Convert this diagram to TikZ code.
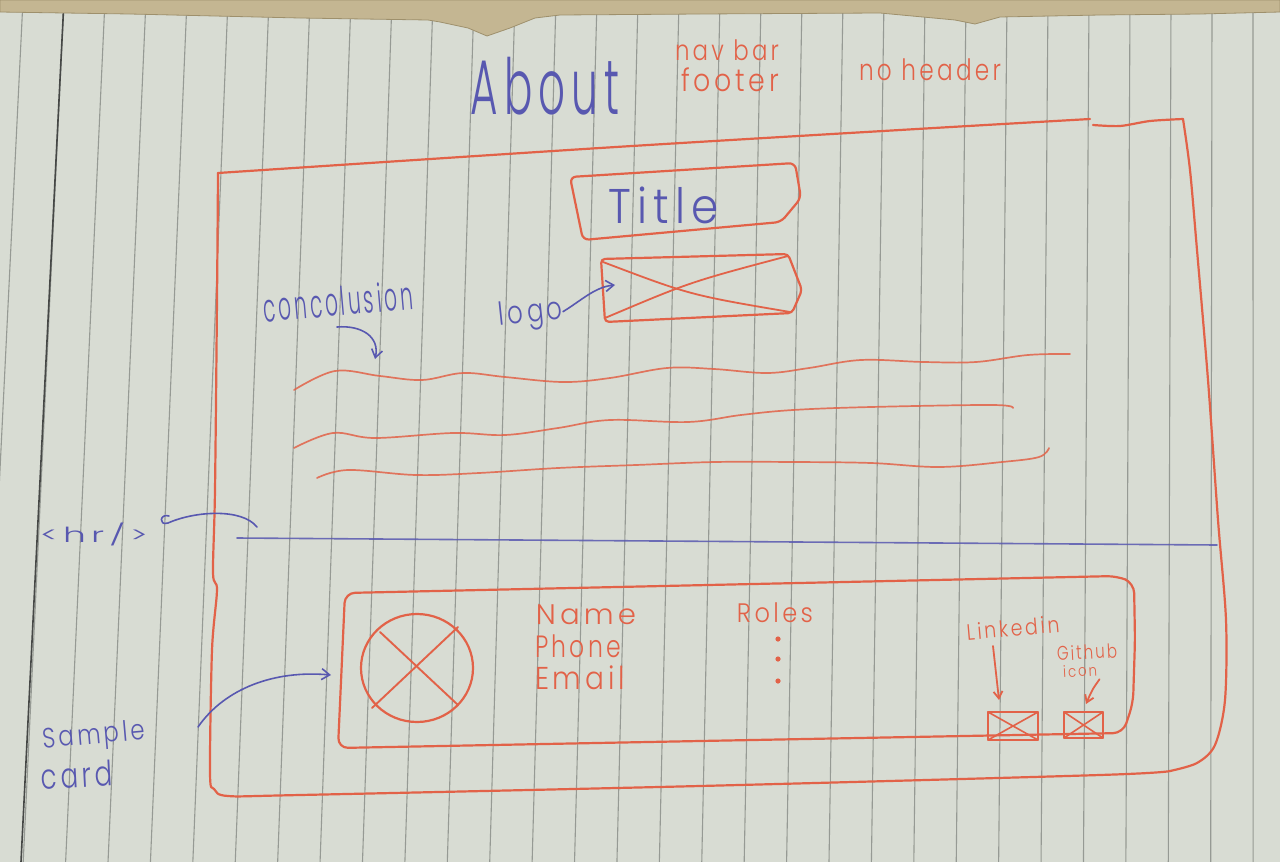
\documentclass[tikz,border=0pt]{standalone}
\usepackage{fontspec}
\setmainfont{Poppins Light}
\usetikzlibrary{arrows.meta}

\definecolor{paper}{RGB}{216,220,211}
\definecolor{ruleline}{RGB}{150,154,148}
\definecolor{marginline}{RGB}{70,72,70}
\definecolor{torn}{RGB}{196,182,146}
\definecolor{tornedge}{RGB}{158,144,108}
\definecolor{redink}{RGB}{226,98,72}
\definecolor{blueink}{RGB}{88,88,176}

% handwritten word, loosely spaced, squeezed into a given width and total height
\newcommand{\inked}[3]{\resizebox*{#1pt}{#2pt}{\addfontfeature{LetterSpace=14}#3}}

\tikzset{
  redpen/.style={draw=redink, line width=2.2pt, line cap=round, line join=round},
  thinred/.style={draw=redink, line width=1.7pt, line cap=round, line join=round, draw opacity=0.85},
  bluepen/.style={draw=blueink, line width=1.9pt, line cap=round, line join=round},
  bluearrow/.style={bluepen, -{Straight Barb[length=8pt,width=11pt]}},
  redarrow/.style={redpen, line width=1.8pt, -{Straight Barb[length=7pt,width=9pt]}},
  redword/.style={text=redink, inner sep=0pt},
  blueword/.style={text=blueink, inner sep=0pt},
}

\begin{document}
\begin{tikzpicture}[x=1pt, y=-1pt]
\useasboundingbox (0,0) rectangle (1280,862);
\fill[paper] (0,0) rectangle (1280,862);

% ruled paper, vertical lines leaning slightly
\foreach \k in {-1,...,29} {
  \pgfmathsetmacro\xt{64+41*\k}
  \pgfmathsetmacro\xb{\xt-43*(1-\xt/1250)}
  \draw[ruleline, line width=1.1pt] (\xt,0) -- (\xb,862);
}
\draw[marginline, line width=1.6pt] (64,0) -- (21,862);

% torn strip along the top edge
\fill[torn, draw=tornedge, line width=0.8pt]
  (0,0) -- (1280,0) -- (1280,12) -- (1200,14) -- (1100,15) -- (1000,17)
  -- (975,24) -- (955,20) -- (880,13) -- (700,14) -- (560,15) -- (535,18)
  -- (510,28) -- (487,36) -- (468,28) -- (440,22) -- (428,20) -- (300,18)
  -- (130,14) -- (0,12) -- cycle;

% page heading and notes
\node[blueword] (about) at (545,86) {\inked{148}{58}{About}};
\node[redword] (navbar) at (727,50) {\inked{104}{21}{nav bar}};
\node[redword] (footer) at (730,80) {\inked{98}{24}{footer}};
\node[redword] (noheader) at (930,70) {\inked{142}{22}{no header}};

% outer page frame
\draw[redpen] plot[smooth, tension=0.5] coordinates {(218,173) (600,148) (900,130) (1090,119)};
\draw[redpen] plot[smooth, tension=0.5] coordinates {(1093,125) (1120,126) (1150,121) (1183,119)};
\draw[redpen] plot[smooth, tension=0.5] coordinates {(1183,119) (1190,170) (1197,250) (1208,380) (1218,520) (1226,620) (1225,700) (1215,745) (1197,763) (1170,771)};
\draw[redpen] plot[smooth, tension=0.5] coordinates {(1170,771) (1100,775) (700,786) (300,795) (228,796) (214,789) (210,773) (212,650) (217,590) (213,573) (215,490) (217,300) (218,173)};

% title box
\draw[redpen, rounded corners=6pt] (570,177) -- (795,163) -- (801,198) -- (781,222) -- (583,240) -- cycle;
\node[blueword] (title) at (664,205) {\inked{110}{37}{Title}};

% logo placeholder
\draw[redpen, rounded corners=4pt] (601,259) -- (788,254) -- (802,290) -- (792,313) -- (605,322) -- cycle;
\draw[redpen, line width=1.8pt] (603,262) .. controls (690,295) .. (790,312);
\draw[redpen, line width=1.8pt] (605,318) .. controls (690,282) .. (788,256);
\node[blueword, rotate=6] (logo) at (531,315) {\inked{64}{32}{logo}};
\coordinate (logoTip) at (615,285);
\draw[bluearrow, line width=1.6pt] (logo.east) .. controls (582,300) and (595,287) .. (logoTip);

% concolusion note and text lines
\node[blueword, rotate=5] (concl) at (338,301) {\inked{150}{30}{concolusion}};
\coordinate (conclStart) at (337,327);
\coordinate (conclTip) at (375,359);
\draw[bluearrow, line width=1.6pt] (conclStart) .. controls (362,325) and (380,337) .. (conclTip);

\draw[thinred] plot[smooth, tension=0.6] coordinates {(294,390) (335,371) (380,376) (422,380) (463,373) (505,377) (563,382) (610,378) (667,368) (714,369) (767,373) (809,368) (861,360) (924,362) (976,362) (1028,355) (1070,354)};
\draw[thinred] plot[smooth, tension=0.6] coordinates {(294,448) (333,433) (375,438) (453,433) (505,435) (558,428) (610,420) (688,422) (741,415) (793,410) (871,407) (992,405) (1013,408)};
\draw[thinred] plot[smooth, tension=0.6] coordinates {(317,478) (348,470) (416,475) (479,473) (558,468) (636,465) (715,462) (793,462) (871,463) (939,467) (1002,462) (1039,457) (1049,448)};

% horizontal rule and its note
\coordinate (hrL) at (237,538);
\coordinate (hrR) at (1217,545);
\draw[bluepen, line width=1.6pt, draw opacity=0.85] (hrL) -- (hrR);
\node[blueword] (hr) at (94,534) {\inked{108}{23}{<hr/>}};
\coordinate (hrHook) at (169,516);
\coordinate (hrEnd) at (257,527);
\draw[bluepen, line width=1.6pt] (hrHook) .. controls (160,513) and (158,526) .. (168,523)
  .. controls (195,511) and (242,508) .. (hrEnd);

% sample card
\draw[redpen, rounded corners=10pt] (345,593) -- (1117,576) -- (1134,583) -- (1135,640) -- (1133,703) -- (1123,733) -- (700,741) -- (338,748) -- cycle;
\draw[redpen] (417,668) ellipse [x radius=56, y radius=54];
\draw[redpen, line width=1.9pt] (380,632) -- (458,705);
\draw[redpen, line width=1.9pt] (372,708) -- (458,627);

\node[redword] (name) at (586,615) {\inked{100}{20}{Name}};
\node[redword] (phone) at (578,646) {\inked{86}{23}{Phone}};
\node[redword] (email) at (580,678) {\inked{90}{24}{Email}};
\node[redword] (roles) at (775,613) {\inked{76}{20}{Roles}};
\foreach \y in {639,659,681} \fill[redink] (778,\y) circle (2.6);

\node[redword, rotate=5] (linkedin) at (1013,628) {\inked{93}{17}{Linkedin}};
\node[redword, rotate=3] (github) at (1087,652) {\inked{60}{15}{Github}};
\node[redword, rotate=3] (icon) at (1080,671) {\inked{34}{12}{icon}};

\draw[redpen, line width=1.9pt] (988,712) rectangle (1038,740);
\draw[redpen, line width=1.6pt] (988,712) -- (1038,740) (988,740) -- (1038,712);
\draw[redpen, line width=1.9pt] (1064,712) rectangle (1103,738);
\draw[redpen, line width=1.6pt] (1064,712) -- (1103,738) (1064,738) -- (1103,712);
\coordinate (linkedinTip) at (999,700);
\coordinate (githubTip) at (1086,704);
\draw[redarrow] (993,646) -- (linkedinTip);
\draw[redarrow] (icon.south east) ++(2,3) .. controls (1092,690) .. (githubTip);

\node[blueword, rotate=5] (sample) at (94,737) {\inked{103}{28}{Sample}};
\node[blueword, rotate=3] (card) at (77,775) {\inked{72}{26}{card}};
\coordinate (sampleStart) at (198,727);
\coordinate (sampleTip) at (331,675);
\draw[bluearrow, line width=1.6pt] (sampleStart) .. controls (225,688) and (275,670) .. (sampleTip);
\end{tikzpicture}
\end{document}
